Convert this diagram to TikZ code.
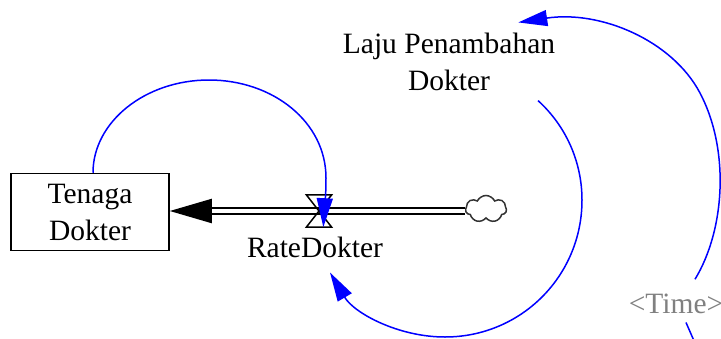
\documentclass[tikz,border=0pt]{standalone}
\usepackage{fontspec}
\setmainfont{Liberation Serif}
\usetikzlibrary{arrows.meta,shapes.symbols}

\tikzset{
  every node/.style={font=\fontsize{29.5}{37}\selectfont},
  stock/.style={draw, line width=1.5pt, minimum width=158pt, minimum height=77pt, align=center, inner sep=2pt},
  varname/.style={align=center, inner sep=2pt},
  pipe/.style={double, double distance=4.6pt, line width=2pt, -{Triangle[length=42pt,width=24pt]}},
  link/.style={blue, line width=1.5pt, -{Triangle[length=29pt,width=16pt]}},
}

\begin{document}
\begin{tikzpicture}[x=1pt,y=-1pt]
\useasboundingbox (0,0) rectangle (721,338);
\clip (0,0) rectangle (721,338);
% stock, source cloud and valve
\node[stock] (box) at (90,212) {Tenaga\\Dokter};
\node[cloud, draw=black!80, line width=1.5pt, cloud puffs=7, cloud puff arc=130, cloud ignores aspect, minimum width=41pt, minimum height=27pt, inner sep=0pt] (cloud) at (486,209) {};
\node[minimum width=25pt, minimum height=32pt, inner sep=0pt] (valve) at (319,211) {};
\draw[pipe] (cloud.west |- valve) -- (box.east |- valve);
\draw[line width=1.5pt, line join=miter] (valve.north west) -- (valve.north east) -- (valve.south west) -- (valve.south east) -- cycle;
% variable names
\node[varname, anchor=base] (rate) at (315,257) {RateDokter};
\node[varname] (laju) at (449,61.5) {Laju Penambahan\\Dokter};
\node[varname, anchor=base, text=black!50] (time) at (676,313) {<Time>};
\coordinate (timeOut) at (698,350);
% causal links
\draw[link] ([xshift=3pt]box.north) .. controls (93,122) and (145,80) .. (209,80)
  .. controls (273,80) and (326,122) .. (326,178) .. controls (326,200) and (324,214) .. (valve.-75);
\draw[link] ([xshift=89pt,yshift=-8pt]laju.south) .. controls (566,126) and (582,162) .. (582,200)
  .. controls (582,276) and (521,337) .. (445,337) .. controls (398,337) and (354,313) .. ([xshift=15pt,yshift=-13pt]rate.south);
\draw[link] ([xshift=19pt,yshift=12pt]time.north) .. controls (725,230) and (730,150) .. (700,93)
  .. controls (672,40) and (600,10) .. ([xshift=-39pt,yshift=8pt]laju.north east);
\draw[blue, line width=1.5pt] ([xshift=10pt,yshift=-7pt]time.south) -- (timeOut);
\end{tikzpicture}
\end{document}
